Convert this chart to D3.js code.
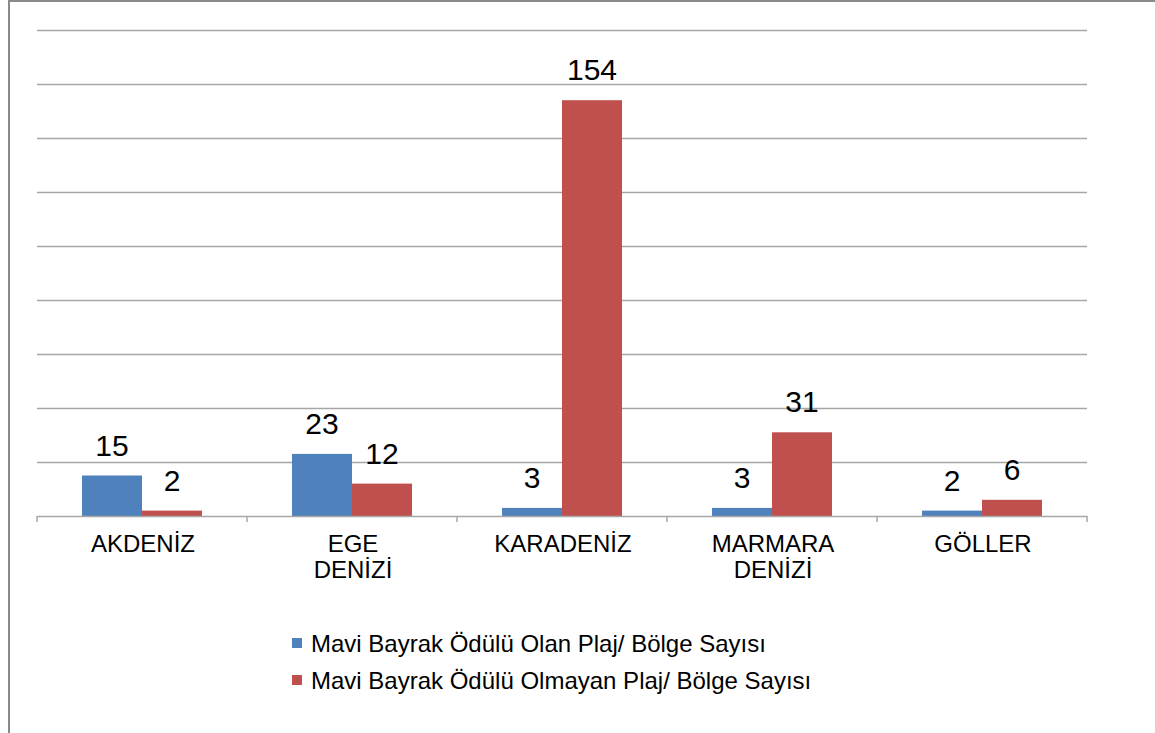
<!DOCTYPE html>
<html>
<head>
<meta charset="utf-8">
<script src="https://cdn.jsdelivr.net/npm/d3@7"></script>
<style>
  html, body { margin: 0; padding: 0; background: #fff; }
  svg { display: block; font-family: "Liberation Sans", Arial, sans-serif; }
</style>
</head>
<body>
<svg id="chart" width="1155" height="733"></svg>
<script>
const categories = ["AKDENİZ", "EGE DENİZİ", "KARADENİZ", "MARMARA DENİZİ", "GÖLLER"];
const seriesNames = ["Mavi Bayrak Ödülü Olan Plaj/ Bölge Sayısı", "Mavi Bayrak Ödülü Olmayan Plaj/ Bölge Sayısı"];
const withAward = [15, 23, 3, 3, 2];
const withoutAward = [2, 12, 154, 31, 6];
const yTicks = [0, 20, 40, 60, 80, 100, 120, 140, 160, 180];
const colors = ["#4F81BD", "#C0504D"];

(function () {
const series = [withAward, withoutAward];
const svg = d3.select("#chart");

// outer frame (partial, as in reference)
svg.append("line").attr("x1", 9).attr("x2", 9).attr("y1", 0).attr("y2", 733)
  .attr("stroke", "#8a8a8a").attr("stroke-width", 2);
svg.append("line").attr("x1", 8).attr("x2", 1155).attr("y1", 1).attr("y2", 1)
  .attr("stroke", "#8a8a8a").attr("stroke-width", 2);

const pLeft = 37, pRight = 1087, pTop = 30, pBottom = 516;
const x = d3.scaleBand().domain(categories).range([pLeft, pRight]).padding(0);
const xi = d3.scaleBand().domain([0, 1]).range([0, x.bandwidth()]).paddingOuter(0.75).paddingInner(0);
const y = d3.scaleLinear().domain([0, 180]).range([pBottom, pTop]);

// gridlines
svg.append("g").selectAll("line").data(yTicks.filter(d => d > 0)).join("line")
  .attr("x1", pLeft).attr("x2", pRight)
  .attr("y1", d => Math.round(y(d)) + 0.5).attr("y2", d => Math.round(y(d)) + 0.5)
  .attr("stroke", "#a6a6a6").attr("stroke-width", 1.5);

// bars
const groups = svg.append("g").selectAll("g").data(categories).join("g")
  .attr("transform", d => `translate(${x(d)},0)`);
groups.selectAll("rect").data((c, i) => series.map((s, k) => ({k, v: s[i]}))).join("rect")
  .attr("x", d => xi(d.k)).attr("width", xi.bandwidth())
  .attr("y", d => y(d.v)).attr("height", d => y(0) - y(d.v))
  .attr("fill", d => colors[d.k]);

// value labels
groups.selectAll("text.val").data((c, i) => series.map((s, k) => ({k, v: s[i]}))).join("text")
  .attr("class", "val")
  .attr("x", d => xi(d.k) + xi.bandwidth() / 2)
  .attr("y", d => y(d.v) - 20)
  .attr("text-anchor", "middle")
  .attr("font-size", 30).attr("fill", "#000")
  .text(d => d.v);

// x axis baseline + ticks
const axis = d3.axisBottom(x).tickSize(0).tickFormat("");
const ax = svg.append("g").attr("transform", `translate(0,${pBottom})`).call(axis);
ax.select(".domain").attr("stroke", "#a6a6a6").attr("stroke-width", 1.5);
const boundaries = categories.map(c => x(c)).concat([pRight]);
ax.selectAll("line.b").data(boundaries).join("line").attr("class", "b")
  .attr("x1", d => d).attr("x2", d => d).attr("y1", 0).attr("y2", 6)
  .attr("stroke", "#a6a6a6").attr("stroke-width", 1.5);

// category labels (wrapped by word)
const labels = svg.append("g").selectAll("text").data(categories).join("text")
  .attr("x", d => x(d) + x.bandwidth() / 2 + 1)
  .attr("y", 552)
  .attr("text-anchor", "middle")
  .attr("font-size", 24).attr("fill", "#000");
labels.each(function(d) {
  const words = d.split(" ");
  d3.select(this).selectAll("tspan").data(words).join("tspan")
    .attr("x", x(d) + x.bandwidth() / 2 + 1)
    .attr("dy", (w, i) => i === 0 ? 0 : 26)
    .text(w => w);
});

// legend
const legend = svg.append("g").selectAll("g").data(seriesNames).join("g")
  .attr("transform", (d, i) => `translate(292,${638 + i * 37})`);
legend.append("rect").attr("width", 10).attr("height", 10).attr("fill", (d, i) => colors[i]);
legend.append("text").attr("x", 19).attr("y", 14).attr("font-size", 24).attr("fill", "#000")
  .text(d => d);
})();
</script>
</body>
</html>
